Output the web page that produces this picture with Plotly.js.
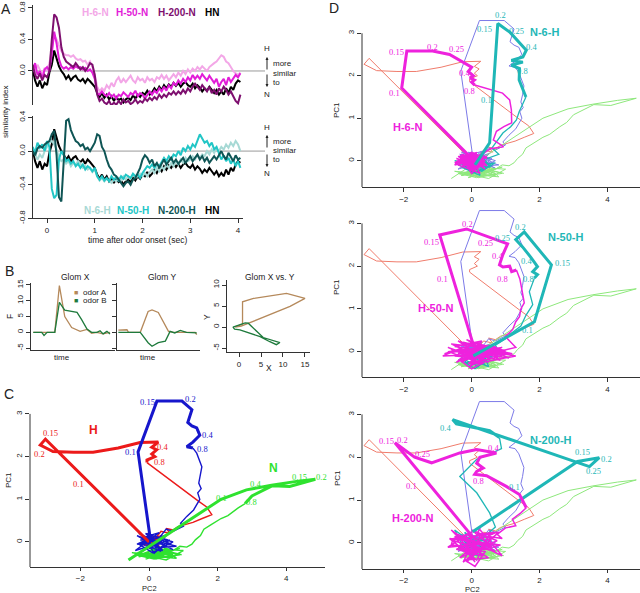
<!DOCTYPE html>
<html><head><meta charset="utf-8">
<script src="https://cdn.plot.ly/plotly-3.0.1.min.js"></script>
<style>html,body{margin:0;padding:0;background:#fff}#chart{width:640px;height:593px}</style>
</head><body><div id="chart"></div>
<script>
// ---------------- Panel A: similarity index time series ----------------
const tA = [-0.3,-0.25,-0.2,-0.15,-0.1,-0.05,0,0.05,0.1,0.15,
 0.2,0.25,0.3,0.35,0.4,0.45,0.5,0.55,0.6,0.65,
 0.7,0.75,0.8,0.85,0.9,0.95,1,1.05,1.1,1.15,
 1.2,1.25,1.3,1.35,1.4,1.45,1.5,1.55,1.6,1.65,
 1.7,1.75,1.8,1.85,1.9,1.95,2,2.05,2.1,2.15,
 2.2,2.25,2.3,2.35,2.4,2.45,2.5,2.55,2.6,2.65,
 2.7,2.75,2.8,2.85,2.9,2.95,3,3.05,3.1,3.15,
 3.2,3.25,3.3,3.35,3.4,3.45,3.5,3.55,3.6,3.65,
 3.7,3.75,3.8,3.85,3.9,3.95,4,4.05];
const HN_si = [0.02,-0.12,-0.2,-0.12,-0.22,-0.15,-0.18,-0.02,0.08,0.26,
 0.16,0.06,0.0,-0.04,-0.1,-0.06,-0.12,-0.08,-0.06,-0.11,
 -0.13,-0.1,-0.15,-0.1,-0.13,-0.16,-0.2,-0.28,-0.33,-0.28,
 -0.34,-0.3,-0.36,-0.32,-0.38,-0.33,-0.37,-0.35,-0.4,-0.36,
 -0.34,-0.37,-0.31,-0.35,-0.3,-0.33,-0.28,-0.3,-0.25,-0.3,
 -0.27,-0.22,-0.26,-0.2,-0.24,-0.18,-0.22,-0.17,-0.2,-0.15,
 -0.19,-0.15,-0.2,-0.16,-0.14,-0.18,-0.2,-0.16,-0.22,-0.18,
 -0.21,-0.26,-0.22,-0.25,-0.2,-0.24,-0.28,-0.24,-0.3,-0.26,
 -0.3,-0.22,-0.28,-0.2,-0.24,-0.16,-0.12,-0.14];
const H6N_si = [0.05,-0.02,0.08,0.02,-0.05,0.04,0.0,0.1,0.3,0.45,
 0.4,0.32,0.25,0.22,0.2,0.2,0.18,0.2,0.16,0.14,
 0.15,0.12,0.13,0.08,0.12,0.05,-0.05,-0.2,-0.26,-0.22,
 -0.25,-0.18,-0.22,-0.15,-0.2,-0.12,-0.08,-0.15,-0.1,-0.14,
 -0.1,-0.06,-0.12,-0.15,-0.08,-0.12,-0.1,-0.15,-0.08,-0.12,
 -0.1,-0.14,-0.08,-0.1,-0.05,-0.1,-0.06,-0.12,-0.08,-0.04,
 -0.08,-0.02,-0.06,0.0,-0.04,0.02,-0.02,0.03,0.0,0.05,
 0.02,0.06,0.03,0.0,0.05,0.08,0.1,0.12,0.16,0.2,
 0.18,0.12,0.1,0.05,0.0,-0.03,-0.05,-0.02];
const H50N_si = [0.0,0.1,-0.05,0.0,-0.1,0.02,0.05,0.0,0.22,0.5,
 0.35,0.15,0.06,0.03,0.05,0.02,0.05,0.03,0.06,0.04,
 0.05,0.02,0.04,0.0,0.02,-0.02,-0.1,-0.28,-0.3,-0.26,
 -0.3,-0.32,-0.28,-0.33,-0.3,-0.35,-0.3,-0.32,-0.27,-0.3,
 -0.33,-0.28,-0.3,-0.25,-0.32,-0.28,-0.3,-0.35,-0.3,-0.26,
 -0.3,-0.25,-0.28,-0.22,-0.26,-0.2,-0.25,-0.18,-0.22,-0.15,
 -0.18,-0.12,-0.16,-0.1,-0.14,-0.08,-0.12,-0.05,-0.1,-0.06,
 -0.1,-0.04,-0.08,-0.12,-0.06,-0.1,-0.15,-0.1,-0.2,-0.14,
 -0.1,-0.18,-0.08,-0.14,-0.1,-0.05,-0.08,-0.03];
const H200N_si = [0.08,-0.05,-0.1,-0.03,-0.12,-0.05,-0.08,0.0,0.4,0.72,
 0.68,0.55,0.3,0.18,0.12,0.1,0.08,0.05,0.1,0.06,
 0.02,0.05,0.0,0.04,0.1,0.08,-0.05,-0.3,-0.38,-0.35,
 -0.4,-0.42,-0.38,-0.44,-0.4,-0.43,-0.38,-0.42,-0.36,-0.4,
 -0.38,-0.42,-0.4,-0.36,-0.41,-0.38,-0.4,-0.35,-0.38,-0.34,
 -0.37,-0.33,-0.36,-0.3,-0.34,-0.3,-0.33,-0.28,-0.3,-0.26,
 -0.3,-0.26,-0.29,-0.24,-0.28,-0.22,-0.26,-0.2,-0.16,-0.2,
 -0.24,-0.18,-0.22,-0.26,-0.2,-0.28,-0.24,-0.3,-0.22,-0.26,
 -0.2,-0.24,-0.3,-0.26,-0.32,-0.38,-0.41,-0.3];
const N6H_si = [0.02,-0.05,-0.1,-0.04,-0.08,0.0,0.05,0.1,0.12,0.08,
 0.02,-0.08,-0.12,-0.1,-0.15,-0.12,-0.18,-0.14,-0.16,-0.12,
 -0.15,-0.2,-0.18,-0.22,-0.2,-0.25,-0.22,-0.3,-0.35,-0.32,
 -0.36,-0.33,-0.35,-0.38,-0.34,-0.36,-0.32,-0.35,-0.3,-0.34,
 -0.3,-0.33,-0.28,-0.32,-0.3,-0.27,-0.3,-0.26,-0.3,-0.25,
 -0.22,-0.26,-0.2,-0.24,-0.18,-0.22,-0.16,-0.2,-0.14,-0.18,
 -0.12,-0.16,-0.1,-0.14,-0.08,-0.12,-0.1,-0.06,-0.1,-0.05,
 -0.08,-0.04,-0.06,0.0,-0.04,0.02,-0.02,0.03,0.0,0.05,
 0.02,0.08,0.04,0.1,0.06,0.12,0.08,0.0];
const N50H_si = [0.05,-0.02,0.1,0.04,0.08,0.0,0.12,0.05,-0.45,-0.56,
 -0.52,-0.1,0.0,-0.05,-0.12,-0.1,-0.15,-0.12,-0.18,-0.15,
 -0.2,-0.16,-0.22,-0.18,-0.2,-0.24,-0.2,-0.3,-0.34,-0.3,
 -0.35,-0.32,-0.36,-0.3,-0.34,-0.31,-0.35,-0.3,-0.33,-0.28,
 -0.3,-0.32,-0.27,-0.3,-0.28,-0.32,-0.26,-0.22,-0.18,-0.2,
 -0.16,-0.2,-0.15,-0.18,-0.12,-0.08,-0.12,-0.06,-0.1,-0.04,
 -0.06,0.0,-0.05,0.04,0.0,0.06,0.02,0.08,0.05,0.12,
 0.2,0.15,0.1,0.12,0.06,0.1,0.02,0.05,-0.02,-0.1,
 -0.05,-0.12,-0.08,-0.15,-0.1,-0.18,-0.12,-0.2];
const N200H_si = [0.0,-0.05,0.03,0.06,0.04,0.08,0.1,0.12,0.2,0.24,
 -0.05,-0.55,-0.6,-0.1,0.36,0.38,0.25,0.18,0.12,0.1,
 0.06,0.08,0.02,0.04,0.0,0.05,0.1,0.2,0.18,0.05,
 0.0,-0.1,-0.18,-0.22,-0.28,-0.3,-0.34,-0.38,-0.42,-0.38,
 -0.36,-0.4,-0.34,-0.32,-0.26,-0.2,-0.1,-0.05,-0.08,-0.14,
 -0.1,-0.18,-0.14,-0.2,-0.15,-0.1,-0.16,-0.12,-0.08,-0.14,
 -0.1,-0.15,-0.12,-0.08,-0.14,-0.1,-0.06,-0.12,-0.08,-0.04,
 -0.1,-0.06,-0.12,-0.08,-0.14,-0.1,-0.06,-0.1,-0.04,0.0,
 -0.06,-0.1,-0.02,-0.08,-0.12,-0.05,-0.1,-0.08];
const A_ticks_x = [0,1,2,3,4];

// ---------------- Panel B: schematic glomeruli ----------------
const GX_tA = [0,28,34,41,50,61,70,76,83,91,100];
const GX_A  = [0,0,14.8,5,1.5,0.3,0.9,-0.3,0,-0.5,0];
const GX_tB = [0,11,14,18,28,34,41,50,57,63,70,76,83,87,91,96,100];
const GX_B  = [0,0,-1,0,0,9.5,7,6.5,6.3,4,1,0,0,0.5,-0.5,0.3,-0.5];
const GY_tA = [0,11,13,28,38,43,51,57,64,70,98,100];
const GY_A  = [0.7,0.8,0,0,6.6,7.1,6.3,3.4,0.3,0,0,-0.7];
const GY_tB = [0,28,38,43,51,60,66,72,79,87,100];
const GY_B  = [0,0,-3.3,-4.4,-3.3,-2.8,0.3,-0.2,0.6,0,-0.2];
const XY_A_x = [-0.9,0.8,0.8,3.3,10.8,15,11.6,2.1,0.5,-0.9];
const XY_A_y = [0,0.7,6,6.8,8,6.8,4.9,0.9,0.2,0];
const XY_B_x = [-1.4,1.4,2.1,5.5,9.3,8.5,7,4.8,0.2,-1.0,-1.4];
const XY_B_y = [0,1.0,0.9,-2.5,-3.7,-4.2,-3.5,-2.3,-0.7,-0.5,0];

// ---------------- Panel C: PCA trajectories (PC2 = x, PC1 = y) ----------------
const H_early_x = [0.0,-3.02,-3.17,-2.8,-2.2,-1.63,-0.9,-0.26,0.27,0.08,0.22,0.08,0.17,-0.06,-0.06];
const H_early_y = [0.0,2.41,2.27,2.12,2.1,2.1,2.2,2.33,2.34,2.22,2.16,2.06,2.0,1.92,1.86];
const H_late_x = [-0.06,0.12,0.6,1.1,1.45,1.68,1.83,1.55,1.28,1.1,0.85,0.7,0.5,0.62,0.35,0.2,0.4,0.1,-0.1,0.25,-0.15,0.05,0.3,-0.05,0.15,-0.2,0.1,0.3,-0.2,0.1,0.35,-0.1];
const H_late_y = [1.86,1.75,1.45,1.15,0.95,0.82,0.64,0.55,0.46,0.42,0.36,0.28,0.32,0.2,0.25,0.1,0.05,0.12,-0.02,0.0,-0.08,0.08,-0.1,-0.05,0.1,0.05,-0.02,0.05,0.1,-0.1,0.15,0.0];
const HN_early_x = [0.05,-0.32,0.23,0.96,1.25,1.2,1.13,1.25,1.39,1.48,1.28,1.1,1.28];
const HN_early_y = [0.0,2.11,3.3,3.3,3.1,2.95,2.8,2.72,2.67,2.5,2.34,2.23,2.2];
const HN_late_x = [1.28,1.39,1.54,1.5,1.45,1.52,1.42,1.48,1.3,1.1,0.92,1.0,0.7,0.5,0.3,0.55,0.1,-0.2,0.2,-0.35,0.0,0.4,-0.1,0.15,-0.25,0.05,0.3,0.0,
 -0.35,0.4,-0.1,0.7,0.1,-0.3,0.55,0.0,0.8,-0.2,0.3,-0.4,0.6,0.15,-0.15,0.45,-0.3,0.7,0.05,0.35,-0.25,0.5,0.2,-0.05,0.65];
const HN_late_y = [2.2,2.08,1.76,1.55,1.38,1.25,1.15,1.0,0.75,0.6,0.44,0.37,0.25,0.3,0.1,0.05,0.15,0.0,-0.1,-0.05,0.08,-0.02,-0.15,0.12,0.05,-0.08,0.0,0.05,
 0.15,-0.2,0.2,0.0,-0.25,-0.05,0.18,-0.15,-0.1,0.1,0.22,-0.2,0.05,-0.26,0.12,-0.08,0.2,-0.18,0.08,-0.22,-0.02,0.15,-0.12,0.2,-0.05];
const N_early_x = [-0.6,2.1,2.84,3.57,4.3,4.85,4.1,3.6,3.0,2.85,2.95,2.8];
const N_early_y = [-0.42,1.0,1.22,1.33,1.42,1.47,1.3,1.32,1.08,0.95,1.05,0.9];
const N_late_x = [2.8,2.6,2.3,2.1,1.8,1.6,1.5,1.35,1.25,1.1,0.9,0.7,0.5,0.6,0.3,0.1,0.4,-0.1,0.2,0.7,0.3,-0.3,0.0,0.5,0.9,0.2,-0.4,0.1,
 0.3,-0.3,0.6,-0.1,0.9,0.2,-0.5,0.5,1.0,0.0,0.7,-0.2,0.4,0.8,-0.4,0.15,0.65,-0.05,0.35,0.95];
const N_late_y = [0.9,0.8,0.62,0.55,0.4,0.3,0.15,0.05,-0.05,-0.12,-0.1,-0.2,-0.15,-0.3,-0.25,-0.35,-0.3,-0.25,-0.4,-0.3,-0.2,-0.35,-0.28,-0.22,-0.3,-0.38,-0.3,-0.25,
 -0.1,-0.35,-0.2,-0.4,-0.15,-0.3,-0.25,-0.42,-0.2,-0.15,-0.35,-0.28,-0.1,-0.38,-0.3,-0.4,-0.22,-0.32,-0.18,-0.3];

// ---------------- Panel D: mixture trajectories ----------------
const M6_early_x = [-0.06,-2.06,-1.91,-1.15,-0.65,-0.26,0.0,-0.1,0.05,-0.05,0.08,0.0,0.09];
const M6_early_y = [0.1,1.71,2.58,2.58,2.5,2.32,2.2,2.1,2.0,1.95,1.9,1.85,1.78];
const M6_late_x = [0.09,0.5,0.91,1.12,1.17,1.18,0.95,0.73,0.64,0.94,0.55,0.3,0.45,0.1,0.3,-0.2,0.15,-0.35,0.2,0.05,-0.25,0.35,-0.1,0.25,-0.4,0.1,0.4,-0.15,0.2,-0.3,0.0,0.3,-0.2,0.15,-0.05,0.35,-0.3,0.1,0.25,-0.1,
 -0.45,0.2,-0.3,0.4,-0.1,0.3,-0.5,0.1,0.45,-0.25,0.05,-0.4,0.35,-0.15,0.25,-0.35,0.15,-0.05,0.4,-0.5,0.0,0.3,-0.2,0.45,-0.3,0.1,-0.45,0.2,-0.1,0.35,-0.25,0.05,0.4,-0.4,0.15,-0.15,0.3,-0.05,0.2,-0.3];
const M6_late_y = [1.78,1.68,1.59,1.43,1.2,0.89,0.8,0.69,0.49,0.33,0.28,0.15,0.05,0.12,-0.1,0.05,-0.2,-0.05,0.1,-0.25,0.0,-0.12,0.15,-0.3,-0.1,0.05,-0.2,0.1,-0.15,0.08,-0.3,0.0,-0.08,0.2,-0.18,-0.05,0.0,-0.22,0.1,-0.05,
 0.05,-0.1,0.15,0.0,-0.18,0.12,-0.05,0.18,-0.12,0.1,-0.2,0.02,0.15,-0.08,-0.15,0.12,0.05,-0.2,0.08,-0.1,0.2,-0.05,0.0,0.1,-0.15,0.15,-0.02,-0.18,0.12,-0.1,0.05,0.18,-0.08,0.1,-0.15,0.02,0.16,-0.12,0.06,-0.06];
const T6_early_x = [0.1,0.53,0.77,1.12,1.61,1.51,1.17,1.51,1.17,1.41,1.4,1.6];
const T6_early_y = [-0.1,0.42,3.23,3.03,2.6,2.44,2.36,2.32,2.25,2.17,1.9,1.5];
const T6_late_x = [1.6,1.4,1.32,1.15,0.92,0.71,0.6,0.8,0.45,0.3,0.55,0.15,-0.2,0.1,-0.4,0.2,0.0,0.35,-0.15,0.1,0.25,-0.3,0.05,
 -0.5,0.2,-0.3,0.6,0.0,0.4,-0.2,0.7,0.3,-0.4,0.1];
const T6_late_y = [1.5,1.15,0.96,0.8,0.65,0.42,0.3,0.15,0.05,0.12,-0.15,-0.1,0.0,-0.25,-0.1,0.05,-0.3,-0.2,0.1,-0.05,-0.35,-0.15,-0.1,
 0.0,-0.2,0.15,-0.1,-0.3,0.1,-0.15,-0.05,-0.25,-0.05,0.05];
const M50_early_x = [0.03,-0.94,-0.15,1.06,0.92,0.82,0.92,1.12,1.18,1.32];
const M50_early_y = [0.21,2.73,2.87,2.52,2.27,2.03,1.98,2.0,1.87,1.91];
const M50_late_x = [1.32,1.42,1.48,1.55,1.45,1.41,1.3,1.21,1.0,1.3,0.9,0.6,0.75,0.4,0.55,0.1,0.3,-0.2,0.2,-0.5,-0.1,0.35,0.0,-0.35,0.25,0.05,-0.2,0.4,-0.05,0.15,-0.3,0.2,0.0,
 -0.7,0.4,-0.4,0.9,-0.1,0.6,-0.8,0.2,1.1,-0.3,0.5,-0.6,0.8,0.0,1.3,-0.5,0.3,-0.2,0.7,-0.85,0.1,1.0,-0.35,0.45,-0.15,0.85,-0.6,0.25,0.6,-0.45,0.05,1.2,-0.25,0.35,-0.7,0.55,-0.05,0.9,-0.4,0.15];
const M50_late_y = [1.91,1.7,1.45,1.14,1.0,0.82,0.7,0.52,0.35,0.1,0.02,0.15,-0.1,0.05,-0.2,0.1,-0.3,-0.05,-0.15,-0.1,0.05,-0.25,-0.4,-0.2,0.0,-0.3,0.1,-0.12,-0.35,-0.05,-0.25,0.05,-0.15,
 0.1,-0.2,0.25,-0.1,-0.28,0.15,-0.05,0.2,-0.15,0.0,-0.25,0.18,0.05,-0.3,-0.1,0.12,0.25,-0.18,-0.05,-0.1,0.2,0.02,-0.22,0.1,0.28,-0.2,0.05,-0.12,0.15,-0.25,0.08,-0.05,0.22,-0.28,0.0,0.12,-0.15,0.1,-0.05,0.05];
const T50_early_x = [0.05,1.85,2.35,1.55,1.3,1.5,1.75,1.94,1.8,1.94,1.85];
const T50_early_y = [-0.1,0.7,2.03,2.8,2.62,2.45,2.2,1.99,1.87,1.8,1.72];
const T50_late_x = [1.85,1.7,1.8,1.6,1.45,1.2,1.0,0.7,0.8,0.4,0.2,0.5,0.0,-0.2,0.3,0.1,-0.3,0.2,0.45,0.0,
 0.4,-0.2,0.6,0.1,-0.3,0.3,0.5,-0.1];
const T50_late_y = [1.72,1.4,1.1,0.85,0.6,0.45,0.3,0.15,0.0,0.05,-0.1,-0.2,-0.05,-0.25,-0.3,0.05,-0.15,-0.35,-0.1,-0.2,
 -0.3,0.0,-0.1,-0.4,-0.2,0.05,-0.35,-0.15];
const M200_early_x = [0.03,-2.26,-1.68,-1.18,-0.35,0.15,0.73,0.24,0.15,0.34,0.15,0.09,0.44,1.02,1.41,1.61];
const M200_early_y = [0.14,2.34,2.0,1.87,2.1,2.18,2.1,2.0,1.86,1.75,1.67,1.6,1.57,1.32,1.13,0.82];
const M200_late_x = [1.61,1.45,1.2,1.3,1.0,0.75,0.9,0.5,0.6,0.3,0.75,0.2,-0.1,0.1,-0.6,-0.55,-0.2,0.2,-0.35,0.35,0.0,0.5,-0.2,0.1,0.4,-0.4,0.15,0.05,-0.15,0.3,0.0,
 -0.6,0.3,-0.3,0.8,-0.1,0.5,-0.7,0.2,0.9,-0.4,0.1,-0.5,0.6,0.0,0.75,-0.35,0.4,-0.2,0.85,-0.65,0.15,0.55,-0.45,0.3,-0.1,0.7,-0.55,0.25,-0.25,0.45];
const M200_late_y = [0.82,0.7,0.55,0.4,0.35,0.2,0.1,0.15,-0.05,0.1,0.25,0.2,0.05,-0.1,-0.05,0.1,0.15,-0.2,-0.15,-0.3,-0.1,-0.35,-0.4,-0.55,-0.2,-0.1,0.0,-0.3,-0.45,-0.1,-0.2,
 0.3,-0.2,0.1,0.25,-0.4,0.0,-0.1,0.35,-0.3,0.2,-0.45,0.15,-0.1,0.3,0.05,-0.35,0.2,-0.25,-0.05,0.1,-0.4,0.25,-0.15,-0.3,0.2,-0.2,0.05,0.35,-0.45,0.0];
const T200_early_x = [0.03,3.12,3.76,3.47,-0.56,-0.45,0.53,0.82];
const T200_early_y = [0.26,1.9,1.99,1.78,2.88,2.78,2.62,2.46];
const T200_late_x = [0.82,0.88,0.55,0.15,-0.35,0.15,0.53,0.7,0.45,0.2,-0.3,-0.1,0.3,0.0,-0.4,0.2,0.1,
 -0.5,-0.3,0.2,-0.4,0.4,0.0,-0.2,0.3];
const T200_late_y = [2.46,2.2,2.08,1.95,1.55,1.17,0.7,0.37,0.2,0.05,-0.05,-0.2,-0.1,0.1,-0.15,-0.3,-0.05,
 0.3,0.0,-0.2,0.15,0.05,-0.35,0.25,-0.1];
const PC_ticks_x = [-2,0,2,4];
const PC_ticks_y = [0,1,2,3];

// ---------------- drawing ----------------
const W = 640, H = 593;
const X = p => p / W, Y = p => 1 - p / H;
const SANS = '"Liberation Sans", Arial, sans-serif';
const SERIF = '"Liberation Serif", "Times New Roman", serif';
const C = {
  pinkL:'#f3a7e7', mag:'#e21dd8', purp:'#7e0f6f', tealL:'#a7d9d5', turq:'#22c6c6', tealD:'#0f5555',
  tan:'#b5895b', grn:'#1e7a3c',
  red:'#ec1a1a', blue:'#1616cc', green:'#2fe22f',
  redL:'#f07c6c', blueL:'#7c7ae8', greenL:'#8ee87c',
  dMag:'#ee22dd', dTeal:'#1fb7b7'
};
const traces = [];
function ref(n, a){ return n === 1 ? a : a + n; }
function ln(x, y, n, color, width){
  traces.push({type:'scatter', mode:'lines', x:x, y:y, xaxis:ref(n,'x'), yaxis:ref(n,'y'),
    line:{color:color, width:width, shape:'linear'}, hoverinfo:'skip', showlegend:false});
}

// A
ln(tA, HN_si, 1, '#000', 2); ln(tA, H6N_si, 1, C.pinkL, 2); ln(tA, H50N_si, 1, C.mag, 2); ln(tA, H200N_si, 1, C.purp, 2);
ln(tA, HN_si, 2, '#000', 2); ln(tA, N6H_si, 2, C.tealL, 2); ln(tA, N50H_si, 2, C.turq, 2); ln(tA, N200H_si, 2, C.tealD, 2);
// B
ln(GX_tA, GX_A, 3, C.tan, 1.3); ln(GX_tB, GX_B, 3, C.grn, 1.3);
ln(GY_tA, GY_A, 4, C.tan, 1.3); ln(GY_tB, GY_B, 4, C.grn, 1.3);
ln(XY_A_x, XY_A_y, 5, C.tan, 1.3); ln(XY_B_x, XY_B_y, 5, C.grn, 1.3);
// C
ln(N_late_x, N_late_y, 6, C.green, 1.4); ln(H_late_x, H_late_y, 6, C.red, 1.4); ln(HN_late_x, HN_late_y, 6, C.blue, 1.4);
ln(H_early_x, H_early_y, 6, C.red, 3); ln(HN_early_x, HN_early_y, 6, C.blue, 3); ln(N_early_x, N_early_y, 6, C.green, 3);
// D
const Dsets = [
  [7, M6_early_x, M6_early_y, M6_late_x, M6_late_y, T6_early_x, T6_early_y, T6_late_x, T6_late_y],
  [8, M50_early_x, M50_early_y, M50_late_x, M50_late_y, T50_early_x, T50_early_y, T50_late_x, T50_late_y],
  [9, M200_early_x, M200_early_y, M200_late_x, M200_late_y, T200_early_x, T200_early_y, T200_late_x, T200_late_y]
];
Dsets.forEach(s => {
  const n = s[0];
  ln(H_early_x.concat(H_late_x), H_early_y.concat(H_late_y), n, C.redL, 1);
  ln(HN_early_x.concat(HN_late_x), HN_early_y.concat(HN_late_y), n, C.blueL, 1);
  ln(N_early_x.concat(N_late_x), N_early_y.concat(N_late_y), n, C.greenL, 1);
  ln(s[7], s[8], n, C.dTeal, 1.3);
  ln(s[3], s[4], n, C.dMag, 1.5);
  ln(s[5], s[6], n, C.dTeal, 3);
  ln(s[1], s[2], n, C.dMag, 3);
});

// axes
const TF = {size:8, family:SANS, color:'#222'};
function axis(dom, range, extra){
  return Object.assign({domain:dom, range:range, showgrid:false, zeroline:false, showline:false,
    ticks:'', showticklabels:false, fixedrange:true, automargin:false,
    linecolor:'#333', linewidth:1, tickcolor:'#333', ticklen:4, tickwidth:1, tickfont:TF}, extra || {});
}
const XT = {showline:true, ticks:'outside', showticklabels:true, tickangle:0};
const YT = {showline:true, ticks:'outside', showticklabels:true, tickangle:-90};
const dX = [X(362), X(640)], rX = [-3.23, 4.96];
const layout = {
  width:W, height:H, margin:{l:0, r:0, t:0, b:0}, paper_bgcolor:'#fff', plot_bgcolor:'rgba(0,0,0,0)', showlegend:false,
  xaxis: axis([X(32.7), X(242.8)], [-0.3, 4.1], {visible:false, anchor:'y'}),
  yaxis: axis([Y(105), Y(5)], [-0.432, 0.838], Object.assign({}, YT, {anchor:'x', tickvals:[0,0.4,0.8], ticktext:['0.0','0.4','0.8']})),
  xaxis2: axis([X(32.7), X(242.8)], [-0.3, 4.1], Object.assign({}, XT, {anchor:'y2', tickvals:A_ticks_x})),
  yaxis2: axis([Y(218.3), Y(115.8)], [-0.8, 0.42], Object.assign({}, YT, {anchor:'x2', tickvals:[-0.8,-0.4,0,0.4], ticktext:['-0.8','-0.4','0.0','0.4']})),
  xaxis3: axis([X(31), X(115)], [-3, 106.5], {showline:true, anchor:'y3'}),
  yaxis3: axis([Y(350), Y(283)], [-5.6, 15.6], Object.assign({}, YT, {anchor:'x3', tickvals:[-5,0,5,10,15], ticktext:['-5','0','5','10','15']})),
  xaxis4: axis([X(117), X(200)], [-1.7, 104.2], {showline:true, anchor:'y4'}),
  yaxis4: axis([Y(350), Y(283)], [-5.6, 15.6], {showline:true, ticks:'outside', anchor:'x4', tickvals:[-5,0,5,10,15]}),
  xaxis5: axis([X(227), X(310)], [-2.73, 16.14], Object.assign({}, XT, {anchor:'y5', tickvals:[0,5,10,15]})),
  yaxis5: axis([Y(352), Y(280)], [-5.95, 11.19], Object.assign({}, YT, {anchor:'x5', tickvals:[-5,0,5,10], ticktext:['-5','0','5','10']})),
  xaxis6: axis([X(30), X(325)], [-3.47, 5.13], Object.assign({}, XT, {anchor:'y6', tickvals:PC_ticks_x, ticklen:3})),
  yaxis6: axis([Y(567), Y(393)], [-0.586, 3.49], Object.assign({}, YT, {showline:false, anchor:'x6', tickvals:PC_ticks_y})),
  xaxis7: axis(dX, rX, Object.assign({}, XT, {anchor:'y7', tickvals:PC_ticks_x})),
  yaxis7: axis([Y(187), Y(15)], [-0.62, 3.43], Object.assign({}, YT, {showline:false, anchor:'x7', tickvals:PC_ticks_y})),
  xaxis8: axis(dX, rX, Object.assign({}, XT, {anchor:'y8', tickvals:PC_ticks_x})),
  yaxis8: axis([Y(377.3), Y(205)], [-0.6, 3.43], Object.assign({}, YT, {showline:false, anchor:'x8', tickvals:PC_ticks_y})),
  xaxis9: axis(dX, rX, Object.assign({}, XT, {anchor:'y9', tickvals:PC_ticks_x, ticklen:3})),
  yaxis9: axis([Y(569), Y(396)], [-0.61, 3.43], Object.assign({}, YT, {showline:false, anchor:'x9', tickvals:PC_ticks_y})),
  shapes: [], annotations: []
};
// zero lines in A
['y','y2'].forEach(r => layout.shapes.push({type:'line', layer:'below', xref:'paper', yref:r, x0:X(32.7), x1:X(265), y0:0, y1:0, line:{color:'#9a9a9a', width:1}}));
// R-style y-axis lines for C and D
[[6,30,-0.586],[7,362,-0.62],[8,362,-0.6],[9,362,-0.61]].forEach(a => layout.shapes.push({type:'line', xref:'paper', yref:'y'+a[0], x0:X(a[1]), x1:X(a[1]), y0:a[2], y1:3, line:{color:'#333', width:1}}));

const A = layout.annotations;
function P(text, px, py, o){
  o = o || {};
  A.push({text:text, xref:'paper', yref:'paper', x:X(px), y:Y(py), showarrow:false,
    xanchor:o.xa || 'center', yanchor:'middle', textangle:o.rot || 0,
    font:{family:o.fam || SANS, size:o.size || 8, color:o.color || '#222'}});
}
function D(text, n, x, y, color, o){
  o = o || {};
  A.push({text:text, xref:'x'+n, yref:'y'+n, x:x, y:y, showarrow:false, xanchor:'center', yanchor:'middle',
    font:{family:o.fam || SERIF, size:o.size || 8.5, color:color}});
}
function arrow(px, py, ay){
  A.push({text:'', xref:'paper', yref:'paper', x:X(px), y:Y(py), showarrow:true, ax:0, ay:ay,
    arrowhead:2, arrowsize:0.6, arrowwidth:1, arrowcolor:'#222'});
}
// panel letters
P('A', 6, 9, {size:14}); P('B', 9, 271, {size:14}); P('C', 9, 394, {size:14}); P('D', 334, 8, {size:14});
// A legends
const bold = {size:10};
P('<b>H-6-N</b>', 95, 13, Object.assign({color:C.pinkL}, bold));
P('<b>H-50-N</b>', 132, 13, Object.assign({color:C.mag}, bold));
P('<b>H-200-N</b>', 177, 13, Object.assign({color:C.purp}, bold));
P('<b>HN</b>', 212, 13, Object.assign({color:'#000'}, bold));
P('<b>N-6-H</b>', 97, 210, Object.assign({color:C.tealL}, bold));
P('<b>N-50-H</b>', 133, 210, Object.assign({color:C.turq}, bold));
P('<b>N-200-H</b>', 177, 210, Object.assign({color:C.tealD}, bold));
P('<b>HN</b>', 212, 210, Object.assign({color:'#000'}, bold));
// A side notes
[[49,63,73,82,95,57,87],[127,141,151,160,173,135,167]].forEach(r => {
  P('H', 267, r[0]); P('more', 271, r[1], {xa:'left'}); P('similar', 271, r[2], {xa:'left'}); P('to', 271, r[3], {xa:'left'}); P('N', 267, r[4]);
  arrow(267, r[5], 14); arrow(267, r[6], -14);
});
P('similarity index', 5, 112, {rot:-90});
P('time after odor onset (sec)', 137, 240, {size:8.5});
// B
P('Glom X', 75, 277, {size:8.5}); P('Glom Y', 162, 277, {size:8.5}); P('Glom X vs. Y', 270, 277, {size:8.5});
P('time', 62, 357); P('time', 148, 357);
P('F', 10, 317, {rot:-90, size:8.5}); P('Y', 207, 317, {rot:-90, size:8.5}); P('X', 269, 368, {size:8.5});
P('■', 76, 292, {color:C.tan, size:7}); P('odor A', 81, 292, {xa:'left'});
P('■', 76, 300, {color:C.grn, size:7}); P('odor B', 81, 300, {xa:'left'});
// C
P('PC1', 8, 480, {rot:-90}); P('PC2', 149, 588, {size:7.5});
D('<b>H</b>', 6, -1.63, 2.62, C.red, {fam:SANS, size:12});
D('0.15', 6, -2.88, 2.55, C.red); D('0.2', 6, -3.18, 2.06, C.red); D('0.1', 6, -2.07, 1.36, C.red);
D('0.4', 6, 0.4, 2.23, C.red); D('0.8', 6, 0.3, 1.87, C.red);
D('<b>HN</b>', 6, 0.7, 3.53, C.blue, {fam:SANS, size:11});
D('0.15', 6, -0.05, 3.28, C.blue); D('0.2', 6, 1.2, 3.36, C.blue); D('0.1', 6, -0.55, 2.11, C.blue);
D('0.4', 6, 1.7, 2.5, C.blue); D('0.8', 6, 1.55, 2.18, C.blue);
D('<b>N</b>', 6, 3.64, 1.74, C.green, {fam:SANS, size:12});
D('0.1', 6, 2.12, 1.02, C.green); D('0.4', 6, 3.09, 1.35, C.green); D('0.8', 6, 3.0, 0.94, C.green);
D('0.15', 6, 4.4, 1.52, C.green); D('0.2', 6, 5.04, 1.52, C.green);
// D
[110, 287, 478].forEach(py => P('PC1', 337, py, {rot:-90}));
P('PC2', 472, 589, {size:7.5});
const dm = C.dMag, dt = C.dTeal, BF = {fam:SANS, size:11};
D('0.1', 7, -2.26, 1.59, dm); D('0.15', 7, -2.2, 2.55, dm); D('0.2', 7, -1.15, 2.67, dm); D('0.25', 7, -0.44, 2.62, dm);
D('0.4', 7, -0.21, 2.06, dm); D('0.8', 7, -0.06, 1.64, dm); D('<b>H-6-N</b>', 7, -1.88, 0.8, dm, BF);
D('0.2', 7, 0.85, 3.42, dt); D('0.15', 7, 0.38, 3.09, dt); D('0.25', 7, 1.32, 3.05, dt); D('0.4', 7, 1.76, 2.67, dt);
D('0.8', 7, 1.5, 2.11, dt); D('0.1', 7, 0.44, 1.43, dt); D('<b>N-6-H</b>', 7, 2.15, 3.02, dt, BF);
D('0.2', 8, -0.12, 2.99, dm); D('0.15', 8, -1.18, 2.57, dm); D('0.25', 8, 0.41, 2.55, dm); D('0.4', 8, 0.76, 2.24, dm);
D('0.1', 8, -0.85, 1.7, dm); D('0.8', 8, 0.92, 1.7, dm); D('<b>H-50-N</b>', 8, -1.06, 1.03, dm, BF);
D('0.2', 8, 1.44, 2.92, dt); D('0.25', 8, 0.92, 2.66, dt); D('0.15', 8, 2.68, 2.08, dt); D('0.4', 8, 1.62, 2.13, dt);
D('0.8', 8, 1.68, 1.7, dt); D('0.1', 8, 1.65, 0.51, dt); D('<b>N-50-H</b>', 8, 2.79, 2.69, dt, BF);
D('0.15', 9, -2.5, 2.37, dm); D('0.2', 9, -2.03, 2.41, dm); D('0.25', 9, -1.44, 2.08, dm); D('0.4', 9, 0.65, 2.22, dm);
D('0.8', 9, 0.21, 1.45, dm); D('0.1', 9, -1.76, 1.33, dm); D('<b>H-200-N</b>', 9, -1.74, 0.59, dm, BF);
D('0.4', 9, -0.76, 2.69, dt); D('0.15', 9, 3.27, 2.13, dt); D('0.2', 9, 3.97, 1.97, dt); D('0.25', 9, 3.59, 1.69, dt);
D('0.1', 9, 1.26, 1.31, dt); D('<b>N-200-H</b>', 9, 2.35, 2.41, dt, BF);

Plotly.newPlot('chart', traces, layout, {staticPlot:true, displayModeBar:false});
</script>
</body></html>
